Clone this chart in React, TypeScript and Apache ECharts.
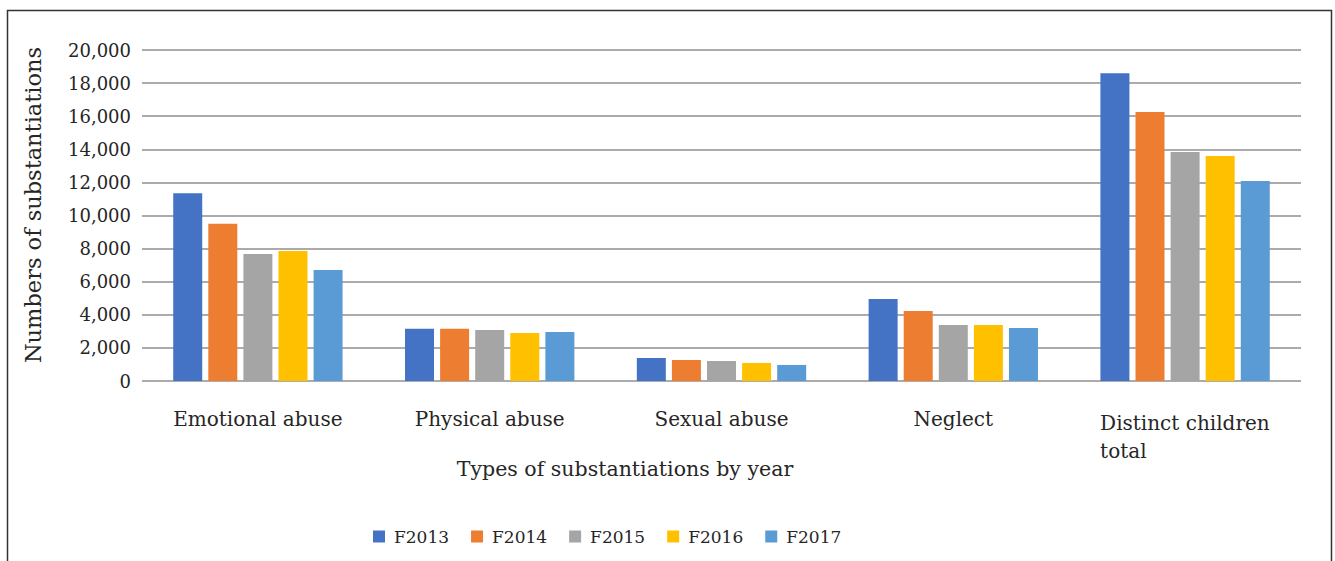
import React, { useEffect, useRef } from "react";
import * as echarts from "echarts";

const categories = ["Emotional abuse", "Physical abuse", "Sexual abuse", "Neglect", "Distinct children total"];
const seriesNames = ["F2013", "F2014", "F2015", "F2016", "F2017"];
const f2013 = [11350, 3150, 1390, 4950, 18600];
const f2014 = [9500, 3150, 1270, 4230, 16250];
const f2015 = [7670, 3080, 1210, 3390, 13840];
const f2016 = [7850, 2900, 1090, 3390, 13600];
const f2017 = [6700, 2960, 970, 3200, 12080];
const colors = ["#4472C4", "#ED7D31", "#A5A5A5", "#FFC000", "#5B9BD5"];
const yTicks = { min: 0, max: 20000, interval: 2000 };

const FONT = "DejaVu Serif";
const TXT = "#262626";

export default function App() {
  const ref = useRef<HTMLDivElement>(null);
  useEffect(() => {
    if (!ref.current) return;
    const chart = echarts.init(ref.current, null, { renderer: "svg" });
    const values = [f2013, f2014, f2015, f2016, f2017];
    chart.setOption({
      animation: false,
      backgroundColor: "#ffffff",
      grid: { left: 142, right: 34, top: 50, bottom: 180, containLabel: false },
      legend: {
        left: 373,
        top: 528,
        padding: 0,
        itemWidth: 12,
        itemHeight: 12,
        itemGap: 22,
        icon: "rect",
        textStyle: { fontFamily: FONT, fontSize: 17, color: TXT, padding: [0, 0, 0, 4] },
        data: seriesNames,
      },
      xAxis: {
        type: "category",
        data: categories,
        axisLine: { show: false },
        axisTick: { show: false },
        axisLabel: {
          interval: 0,
          hideOverlap: false,
          margin: 28,
          fontFamily: FONT,
          fontSize: 20,
          color: TXT,
          formatter: (v: string) =>
            v === "Distinct children total" ? "{l|Distinct children}\n{l|total}" : v,
          rich: {
            l: { width: 170, align: "left", fontFamily: FONT, fontSize: 20, color: TXT, lineHeight: 28 },
          },
        },
      },
      yAxis: {
        type: "value",
        min: yTicks.min,
        max: yTicks.max,
        interval: yTicks.interval,
        axisLine: { show: false },
        axisTick: { show: false },
        axisLabel: {
          margin: 11,
          fontFamily: FONT,
          fontSize: 18,
          color: TXT,
          formatter: (v: number) => v.toLocaleString("en-US"),
        },
        splitLine: { lineStyle: { color: "#ababab", width: 2 } },
      },
      series: seriesNames.map((name, i) => ({
        name,
        type: "bar",
        data: values[i],
        barWidth: 29,
        barGap: "21%",
        itemStyle: { color: colors[i] },
      })),
      graphic: [
        {
          type: "rect",
          shape: { x: 7.5, y: 10.5, width: 1324, height: 600 },
          style: { fill: "none", stroke: "#333333", lineWidth: 1.5 },
          silent: true,
        },
        {
          type: "text",
          x: 33,
          y: 205,
          rotation: Math.PI / 2,
          style: {
            text: "Numbers of substantiations",
            fontFamily: FONT,
            fontSize: 22.5,
            fill: TXT,
            align: "center",
            verticalAlign: "middle",
          },
        },
        {
          type: "text",
          x: 625,
          y: 469,
          style: {
            text: "Types of substantiations by year",
            fontFamily: FONT,
            fontSize: 20.5,
            fill: TXT,
            align: "center",
            verticalAlign: "middle",
          },
        },
      ],
    });
    return () => chart.dispose();
  }, []);
  return (
    <div
      ref={ref}
      style={{ position: "fixed", left: 0, top: 0, width: 1335, height: 561, background: "#fff" }}
    />
  );
}
